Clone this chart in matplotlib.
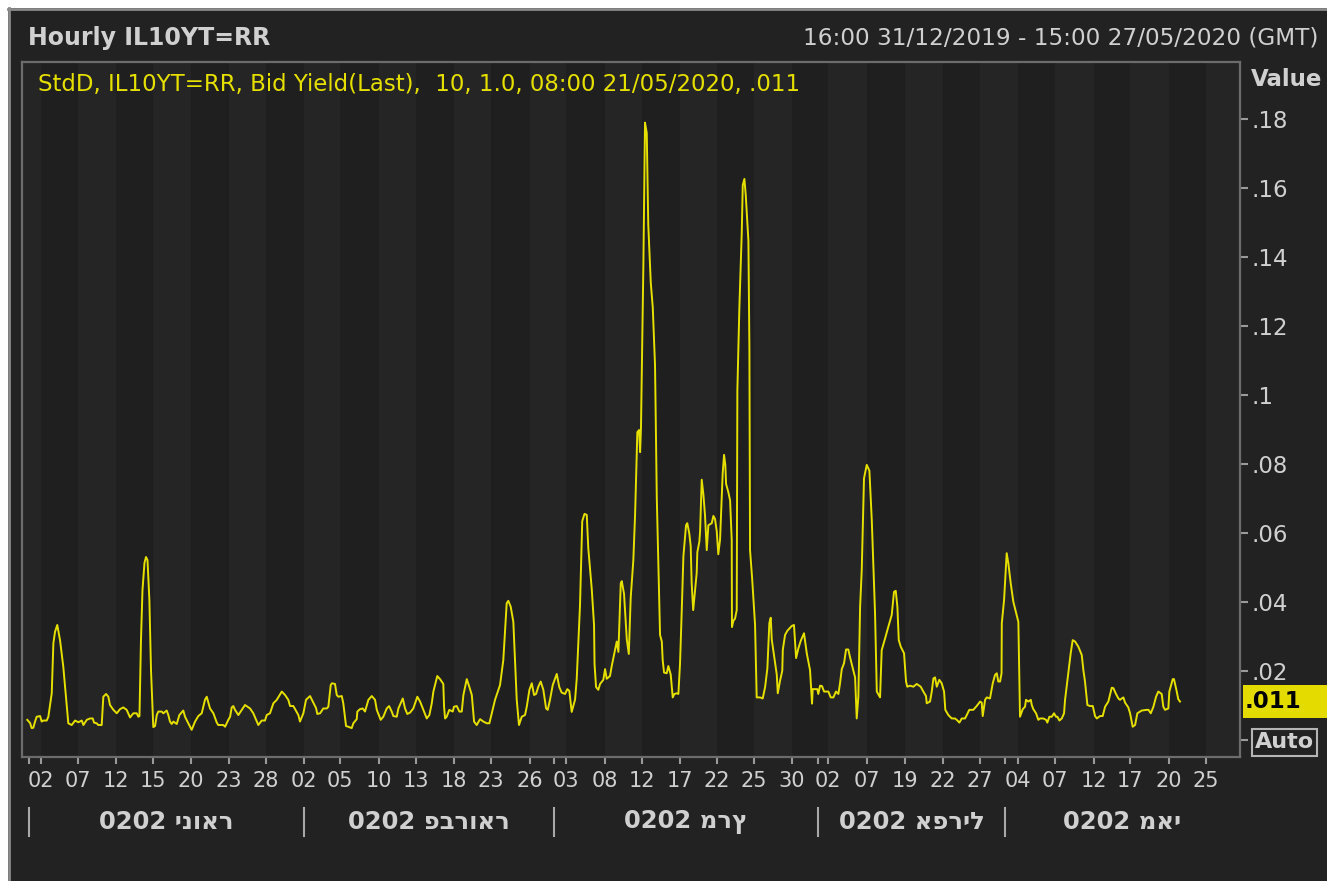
import matplotlib
matplotlib.use("Agg")
import matplotlib.pyplot as plt
from matplotlib.transforms import blended_transform_factory
from matplotlib.patches import Rectangle
from matplotlib.lines import Line2D

plt.rcParams['font.family'] = ['DejaVu Sans', 'Liberation Sans']

# ---------------- data (x = trading-day index from 01/01/2020) ----------------
trading_day = [
    -0.10, 0.12, 0.25, 0.38, 0.52, 0.65, 0.92, 1.05, 1.18, 1.45, 1.58, 1.85, 1.98, 2.11, 2.29, 2.51,
    2.77, 3.17, 3.44, 3.71, 3.97, 4.24, 4.37, 4.64, 4.90, 5.12, 5.22, 5.43, 5.56, 5.83, 5.96, 6.18,
    6.36, 6.49, 6.76, 7.03, 7.29, 7.55, 7.82, 8.09, 8.35, 8.62, 8.75, 8.84, 8.96, 9.08, 9.24, 9.36,
    9.48, 9.63, 9.76, 9.94, 10.08, 10.22, 10.34, 10.61, 10.74, 11.01, 11.14, 11.27, 11.41, 11.54, 11.81, 12.02,
    12.33, 12.47, 12.73, 13.00, 13.27, 13.53, 13.80, 14.06, 14.20, 14.46, 14.73, 15.00, 15.12, 15.52, 15.66, 15.92,
    16.06, 16.19, 16.32, 16.45, 16.72, 16.99, 17.25, 17.65, 17.91, 18.31, 18.58, 18.84, 18.98, 19.24, 19.51, 19.78,
    20.18, 20.44, 20.70, 20.84, 21.10, 21.50, 21.63, 21.90, 22.11, 22.43, 22.69, 22.91, 23.01, 23.23, 23.49, 23.76,
    23.89, 24.08, 24.18, 24.42, 24.56, 24.69, 24.96, 25.08, 25.30, 25.48, 25.75, 25.88, 26.15, 26.20, 26.41, 26.63,
    26.81, 27.08, 27.35, 27.61, 27.75, 28.06, 28.27, 28.54, 28.73, 28.94, 29.07, 29.34, 29.47, 29.82, 30.00, 30.18,
    30.40, 30.66, 30.98, 31.20, 31.46, 31.73, 31.94, 32.13, 32.26, 32.57, 32.79, 33.05, 33.11, 33.19, 33.32, 33.53,
    33.80, 33.90, 34.12, 34.33, 34.52, 34.65, 34.92, 35.12, 35.32, 35.50, 35.71, 35.98, 36.24, 36.51, 36.72, 37.17,
    37.57, 37.83, 38.10, 38.23, 38.42, 38.63, 38.76, 38.90, 39.08, 39.30, 39.56, 39.70, 39.91, 40.10, 40.28, 40.44,
    40.62, 40.81, 41.02, 41.24, 41.37, 41.55, 41.77, 42.09, 42.29, 42.48, 42.75, 42.93, 43.09, 43.28, 43.55, 43.68,
    43.94, 44.12, 44.30, 44.48, 44.60, 44.88, 45.06, 45.10, 45.22, 45.40, 45.54, 45.80, 45.94, 46.07, 46.33, 46.47,
    46.73, 46.87, 47.00, 47.19, 47.27, 47.45, 47.67, 47.83, 47.98, 48.19, 48.33, 48.51, 48.65, 48.73, 48.80, 48.99,
    49.12, 49.26, 49.38, 49.58, 49.74, 49.92, 50.06, 50.32, 50.46, 50.53, 50.64, 50.85, 50.98, 51.17, 51.33, 51.46,
    51.65, 51.78, 51.91, 52.05, 52.18, 52.39, 52.49, 52.65, 52.76, 52.84, 52.96, 53.10, 53.24, 53.29, 53.45, 53.51,
    53.64, 53.77, 53.90, 54.04, 54.17, 54.44, 54.57, 54.70, 54.84, 54.96, 55.10, 55.31, 55.42, 55.52, 55.58, 55.76,
    55.90, 56.03, 56.05, 56.16, 56.29, 56.43, 56.48, 56.64, 56.75, 56.83, 56.91, 57.04, 57.15, 57.36, 57.44, 57.49,
    57.65, 57.81, 57.89, 58.02, 58.29, 58.50, 58.69, 58.87, 59.03, 59.14, 59.22, 59.41, 59.62, 59.70, 59.88, 60.06,
    60.10, 60.28, 60.46, 60.81, 60.99, 61.16, 61.34, 61.53, 61.79, 62.01, 62.27, 62.43, 62.48, 62.85, 62.93, 63.07,
    63.22, 63.39, 63.73, 63.92, 64.13, 64.34, 64.53, 64.66, 64.80, 64.98, 65.14, 65.32, 65.46, 65.86, 65.99, 66.12,
    66.26, 66.39, 66.57, 66.79, 67.00, 67.19, 67.45, 67.59, 67.85, 67.98, 68.25, 68.51, 68.78, 68.96, 69.10, 69.23,
    69.34, 69.50, 69.76, 69.92, 70.02, 70.24, 70.50, 70.77, 71.09, 71.30, 71.51, 71.57, 71.83, 71.97, 72.10, 72.23,
    72.37, 72.57, 72.76, 72.95, 73.05, 73.29, 73.56, 73.82, 73.96, 74.17, 74.36, 74.62, 74.76, 74.96, 75.28, 75.55,
    75.82, 75.95, 76.03, 76.22, 76.35, 76.61, 76.83, 77.01, 77.15, 77.27, 77.41, 77.53, 77.55, 77.73, 77.94, 78.07,
    78.26, 78.47, 78.87, 79.00, 79.22, 79.40, 79.48, 79.67, 79.86, 79.94, 80.06, 80.28, 80.46, 80.60, 80.86, 81.08,
    81.18, 81.34, 81.53, 81.71, 81.87, 81.98, 82.14, 82.33, 82.51, 82.59, 82.85, 83.04, 83.20, 83.39, 83.65, 83.92,
    84.05, 84.18, 84.37, 84.58, 84.80, 84.98, 85.12, 85.38, 85.59, 85.78, 86.04, 86.31, 86.44, 86.65, 86.84, 86.97,
    87.11, 87.24, 87.37, 87.63, 87.77, 87.98, 88.17, 88.35, 88.70, 89.10, 89.24, 89.42, 89.63, 89.84, 90.02, 90.29,
    90.42, 90.56, 90.82, 90.90, 91.17, 91.27, 91.49, 91.61, 91.75,
]

std_dev = [
    .0057, .0048, .0033, .0034, .0052, .0066, .0068, .0052, .0055, .0055, .0066, .0134, .0279, .0312, .0332, .0288,
    .0211, .0047, .0042, .0055, .0050, .0055, .0042, .0057, .0061, .0061, .0049, .0047, .0042, .0042, .0124, .0132,
    .0124, .0100, .0086, .0076, .0088, .0093, .0086, .0064, .0076, .0076, .0066, .0068, .0288, .0433, .0512, .0529,
    .0520, .0404, .0201, .0036, .0039, .0071, .0081, .0081, .0076, .0084, .0071, .0052, .0045, .0052, .0045, .0071,
    .0084, .0066, .0047, .0028, .0052, .0068, .0076, .0115, .0124, .0090, .0076, .0049, .0042, .0042, .0037, .0057,
    .0066, .0093, .0097, .0086, .0071, .0086, .0100, .0090, .0076, .0042, .0055, .0055, .0071, .0076, .0105, .0115,
    .0139, .0129, .0115, .0097, .0097, .0071, .0052, .0076, .0115, .0126, .0107, .0091, .0074, .0076, .0090, .0090,
    .0095, .0158, .0163, .0161, .0129, .0124, .0126, .0105, .0039, .0037, .0033, .0047, .0059, .0081, .0088, .0090,
    .0081, .0115, .0126, .0115, .0086, .0057, .0066, .0090, .0097, .0081, .0068, .0066, .0090, .0119, .0090, .0074,
    .0078, .0090, .0124, .0110, .0086, .0061, .0071, .0105, .0139, .0184, .0175, .0161, .0095, .0061, .0066, .0086,
    .0081, .0095, .0097, .0081, .0081, .0129, .0175, .0153, .0129, .0052, .0042, .0059, .0052, .0047, .0047, .0115,
    .0158, .0230, .0395, .0402, .0385, .0341, .0230, .0115, .0042, .0066, .0071, .0095, .0144, .0163, .0129, .0132,
    .0153, .0168, .0144, .0090, .0086, .0115, .0158, .0190, .0152, .0136, .0132, .0146, .0141, .0080, .0116, .0176,
    .0387, .0633, .0654, .0651, .0555, .0435, .0332, .0219, .0152, .0144, .0161, .0173, .0204, .0176, .0184, .0213,
    .0260, .0284, .0254, .0453, .0459, .0422, .0290, .0248, .0410, .0519, .0651, .0891, .0897, .0833, .0904, .1373,
    .1788, .1758, .1493, .1324, .1252, .1084, .0700, .0303, .0284, .0230, .0194, .0192, .0213, .0188, .0122, .0132,
    .0134, .0132, .0219, .0375, .0531, .0621, .0627, .0597, .0561, .0453, .0375, .0428, .0483, .0543, .0573, .0603,
    .0753, .0711, .0651, .0549, .0621, .0627, .0648, .0639, .0603, .0537, .0579, .0771, .0825, .0796, .0741, .0717,
    .0693, .0579, .0326, .0344, .0350, .0375, .1012, .1252, .1373, .1469, .1607, .1625, .1577, .1445, .1132, .0549,
    .0471, .0375, .0332, .0122, .0122, .0119, .0152, .0206, .0338, .0353, .0290, .0242, .0188, .0134, .0170, .0200,
    .0260, .0303, .0315, .0329, .0332, .0236, .0264, .0286, .0308, .0250, .0201, .0104, .0146, .0146, .0132, .0156,
    .0155, .0139, .0139, .0122, .0122, .0139, .0132, .0163, .0204, .0221, .0261, .0261, .0238, .0180, .0061, .0124,
    .0385, .0491, .0757, .0796, .0779, .0636, .0366, .0139, .0122, .0259, .0293, .0327, .0361, .0428, .0431, .0385,
    .0288, .0269, .0250, .0168, .0153, .0156, .0153, .0161, .0153, .0139, .0126, .0105, .0110, .0139, .0177, .0180,
    .0153, .0173, .0163, .0139, .0086, .0071, .0061, .0061, .0057, .0049, .0061, .0061, .0071, .0086, .0086, .0097,
    .0110, .0107, .0068, .0115, .0122, .0119, .0163, .0187, .0192, .0168, .0168, .0192, .0337, .0404, .0540, .0511,
    .0453, .0399, .0341, .0066, .0088, .0095, .0115, .0110, .0115, .0100, .0088, .0076, .0057, .0061, .0061, .0057,
    .0049, .0066, .0066, .0076, .0066, .0066, .0055, .0061, .0076, .0115, .0192, .0250, .0288, .0284, .0269, .0245,
    .0201, .0168, .0100, .0097, .0097, .0068, .0061, .0068, .0068, .0095, .0110, .0150, .0149, .0132, .0119, .0115,
    .0119, .0122, .0107, .0093, .0076, .0037, .0042, .0076, .0084, .0086, .0086, .0076, .0095, .0124, .0139, .0132,
    .0095, .0086, .0090, .0139, .0175, .0175, .0139, .0117, .0110,
]

# day ticks (trading-day index) and their labels
tick_pos = [1.00, 3.94, 6.97, 9.92, 12.95, 15.98, 18.92, 21.95, 24.82, 27.93, 30.88, 33.90, 36.85, 39.97,
            42.83, 45.94, 48.88, 51.91, 54.86, 57.81, 60.84, 63.71, 66.81, 69.84, 72.87, 75.82,
            78.84, 81.79, 84.90, 87.77, 90.88, 93.82]
tick_labels = ["02", "07", "12", "15", "20", "23", "28", "02", "05", "10", "13", "18", "23", "26",
               "03", "08", "12", "17", "22", "25", "30", "02", "07", "19", "22", "27",
               "04", "07", "12", "17", "20", "25"]
month_starts = [0.0, 21.95, 41.87, 62.91, 77.81]
month_labels = ["0202 ינואר", "0202 פברואר", "0202 מרץ", "0202 אפריל", "0202 מאי"]

y_ticks = [0.0, 0.02, 0.04, 0.06, 0.08, 0.10, 0.12, 0.14, 0.16, 0.18]
y_tick_labels = ["", ".02", ".04", ".06", ".08", ".1", ".12", ".14", ".16", ".18"]

title_text = "Hourly IL10YT=RR"
range_text = "16:00 31/12/2019 - 15:00 27/05/2020 (GMT)"
legend_text = "StdD, IL10YT=RR, Bid Yield(Last),  10, 1.0, 08:00 21/05/2020, .011"

# ---------------- style ----------------
BG = '#222222'
STRIPE_DARK = '#1f1f1f'
STRIPE_LIGHT = '#252525'
TEXT = '#d0d0d0'
YELLOW = '#e6e000'
FRAME = '#6c6c6c'
TICKC = '#9a9a9a'

W, H = 1327, 881
fig = plt.figure(figsize=(W / 100, H / 100), dpi=100, facecolor=BG)

# outer white margin + grey border
fig.patches.append(Rectangle((0, 1 - 8 / H), 1, 8 / H, transform=fig.transFigure,
                             facecolor='white', edgecolor='none', zorder=0))
fig.patches.append(Rectangle((0, 0), 8 / W, 1, transform=fig.transFigure,
                             facecolor='white', edgecolor='none', zorder=0))
fig.lines.append(Line2D([8 / W, 1], [1 - 9 / H, 1 - 9 / H], transform=fig.transFigure,
                        color='#8a8a8a', lw=2))
fig.lines.append(Line2D([9 / W, 9 / W], [0, 1 - 8 / H], transform=fig.transFigure,
                        color='#8a8a8a', lw=2))

ax = fig.add_axes([22 / W, 1 - 757 / H, (1240 - 22) / W, (757 - 62) / H])
ax.set_facecolor(STRIPE_LIGHT)
xlim = (-0.52, 96.53)
ylim = (-0.00507, 0.19638)
ax.set_xlim(*xlim)
ax.set_ylim(*ylim)

# alternating background stripes between labelled day ticks
bounds = [xlim[0]] + tick_pos + [xlim[1]]
for k in range(len(bounds) - 1):
    ax.axvspan(bounds[k], bounds[k + 1], color=STRIPE_LIGHT if k % 2 == 0 else STRIPE_DARK,
               lw=0, zorder=0)

ax.plot(trading_day, std_dev, color=YELLOW, lw=1.4, zorder=3)

for sp in ax.spines.values():
    sp.set_color(FRAME)
    sp.set_linewidth(1.6)

# y axis on the right
ax.yaxis.tick_right()
ax.set_yticks(y_ticks)
ax.set_yticklabels(y_tick_labels)
ax.tick_params(axis='y', colors=TICKC, labelcolor=TEXT, length=6, width=1.5, pad=2,
               labelsize=16.5)

# x axis
ax.set_xticks(tick_pos)
ax.set_xticklabels(tick_labels)
ax.set_xticks(month_starts, minor=True)
ax.tick_params(axis='x', which='both', colors=TICKC, labelcolor=TEXT, length=5, width=1.5,
               pad=5, labelsize=15)

# month row
xt = ax.get_xaxis_transform()
ends = month_starts[1:] + [xlim[1]]
for s, e, label in zip(month_starts, ends, month_labels):
    ax.add_line(Line2D([s, s], [-0.073, -0.114], transform=xt, color='#a8a8a8', lw=1.5,
                       clip_on=False))
    ax.text((s + e) / 2, -0.0935, label, transform=xt, ha='center',
            va='center', fontsize=17.5, fontweight='bold', color=TEXT)

# header texts
fig.text(28 / W, 1 - 38 / H, title_text, ha='left', va='center', fontsize=17,
         fontweight='bold', color=TEXT)
fig.text(1318 / W, 1 - 38 / H, range_text, ha='right', va='center', fontsize=16.7, color=TEXT)
fig.text(38 / W, 1 - 85 / H, legend_text, ha='left', va='center', fontsize=16.5, color=YELLOW)
fig.text(1322 / W, 1 - 80 / H, "Value", ha='right', va='center', fontsize=16.5,
         fontweight='bold', color=TEXT)

# last value marker
last = std_dev[-1]
ty = blended_transform_factory(ax.transAxes, ax.transData)
ax.add_patch(Rectangle((1.0025, last - 0.0049), 0.08, 0.0098, transform=ty,
                       facecolor='#e4dc00', edgecolor='none', clip_on=False, zorder=5))
ax.text(1.004, last, f"{last:.3f}".lstrip('0'), transform=ty, ha='left', va='center',
        fontsize=16.5, fontweight='bold', color='black', zorder=6, clip_on=False)

# Auto box
ax.text((1284.5 - 22) / 1218, (757 - 742.5) / 695, "Auto", transform=ax.transAxes,
        ha='center', va='center', fontsize=16, fontweight='bold', color=TEXT,
        bbox=dict(boxstyle='square,pad=0.14', fc=BG, ec='#b5b5b5', lw=1.5), zorder=6)

fig.savefig("out.png", dpi=100, facecolor=BG)
